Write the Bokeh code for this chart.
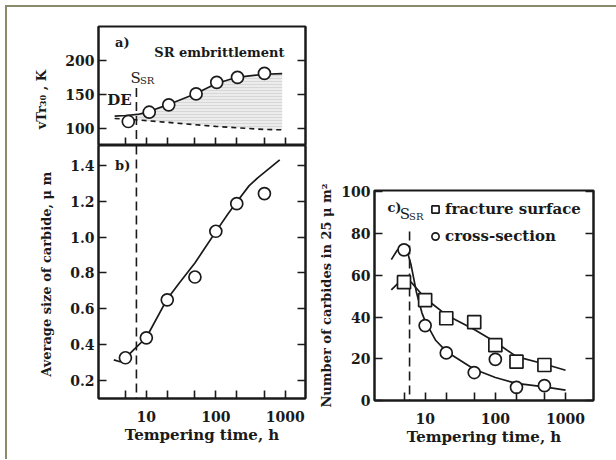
from bokeh.plotting import figure
from bokeh.layouts import row, column
from bokeh.models import (FixedTicker, PrintfTickFormatter, LinearAxis, Legend, LegendItem,
                          Label, Range1d, InlineStyleSheet)
from bokeh.embed import file_html
from bokeh.resources import INLINE

# ---------------- data ----------------
# panel a: vTr30 (K) vs tempering time (h)
a_time = [5.5, 11, 21, 52, 103, 205, 500]
a_vtr = [110.7, 124.3, 135.1, 151.2, 168.2, 175.5, 181.4]
a_curve_t = [3.5, 5, 7.5, 10, 20, 50, 100, 200, 500, 900]
a_curve_solid = [118.5, 119.5, 121, 124, 135, 151, 166, 175.5, 180, 181]
a_curve_de = [115, 114.5, 113, 112, 109.5, 106, 103.5, 101.5, 99, 98.5]
a_shade_from = 2  # shading starts at the third curve point
S_SR_ab = 7.2

# panel b: average carbide size (um)
b_time = [5, 10, 20, 50, 100, 200, 500]
b_size = [0.327, 0.438, 0.65, 0.777, 1.032, 1.186, 1.242]
b_curve_t = [3.4, 4.2, 5, 6.5, 10, 20, 30, 50, 70, 100, 150, 200, 300, 400, 500, 830]
b_curve_v = [0.315, 0.305, 0.325, 0.37, 0.44, 0.655, 0.745, 0.855, 0.94, 1.03, 1.13,
             1.195, 1.285, 1.33, 1.36, 1.43]

# panel c: number of carbides in 25 um^2
c_time = [5, 10, 20, 50, 100, 200, 500]
c_fracture = [56.7, 48.1, 39.4, 37.5, 26.5, 18.6, 17.0]
c_cross = [72.2, 35.9, 22.8, 13.4, 19.7, 6.3, 7.1]
c_fr_curve_t = [3.3, 4.2, 5, 6, 7, 10, 20, 50, 100, 200, 500, 1000]
c_fr_curve_v = [53, 56.5, 58, 57.5, 55, 49, 41, 34, 28, 21, 17.5, 14.5]
c_cs_curve_t = [3.3, 4, 4.8, 5.5, 6.3, 7.5, 9, 10, 14, 20, 50, 100, 200, 500, 1000]
c_cs_curve_v = [67.5, 72, 74, 72, 65, 52, 42, 38, 29, 23.5, 15, 11, 8.2, 6.5, 5]
S_SR_c = 6.0

x_major = [10, 100, 1000]
x_minor = [5, 20, 50, 200, 500]

SERIF = "DejaVu Serif"
INK = "#1a1a1a"
FRAME = "#8b8a6a"


def hide_labels(ax):
    ax.major_label_text_font_size = "1px"
    ax.major_label_text_color = None
    ax.major_label_standoff = 0


def style(p, yticks, yfmt, show_xlabels=True, xlabel=None, ylabel=None, ylab_standoff=13):
    p.outline_line_color = INK
    p.outline_line_width = 2
    p.grid.visible = False
    p.background_fill_color = "white"
    p.border_fill_color = "white"
    xa = p.xaxis[0]
    xa.ticker = FixedTicker(ticks=x_major, minor_ticks=x_minor)
    xa.formatter = PrintfTickFormatter(format="%d")
    xa.major_tick_in = 8
    xa.major_tick_out = 0
    xa.minor_tick_in = 8
    xa.minor_tick_out = 0
    xa.major_tick_line_width = 1.6
    xa.minor_tick_line_width = 1.6
    xa.major_tick_line_color = INK
    xa.minor_tick_line_color = INK
    xa.axis_line_color = INK
    xa.axis_line_width = 2
    if show_xlabels:
        xa.major_label_text_font = SERIF
        xa.major_label_text_font_style = "bold"
        xa.major_label_text_font_size = "14px"
        xa.major_label_text_color = INK
        xa.major_label_standoff = 12
        xa.axis_label = xlabel
        xa.axis_label_text_font = SERIF
        xa.axis_label_text_font_style = "bold"
        xa.axis_label_text_font_size = "15px"
        xa.axis_label_text_color = INK
        xa.axis_label_standoff = 1
    else:
        hide_labels(xa)
    ya = p.yaxis[0]
    ya.ticker = FixedTicker(ticks=yticks, minor_ticks=[])
    ya.formatter = PrintfTickFormatter(format=yfmt)
    ya.major_tick_in = 8
    ya.major_tick_out = 0
    ya.major_tick_line_width = 1.6
    ya.major_tick_line_color = INK
    ya.axis_line_color = INK
    ya.axis_line_width = 2
    ya.major_label_text_font = SERIF
    ya.major_label_text_font_style = "bold"
    ya.major_label_text_font_size = "14px"
    ya.major_label_text_color = INK
    ya.major_label_standoff = 4
    ya.axis_label = ylabel
    ya.axis_label_text_font = SERIF
    ya.axis_label_text_font_style = "bold"
    ya.axis_label_text_font_size = "13px"
    ya.axis_label_text_color = INK
    ya.axis_label_standoff = ylab_standoff
    ra = LinearAxis(ticker=FixedTicker(ticks=yticks, minor_ticks=[]),
                    major_tick_in=8, major_tick_out=0, major_tick_line_width=1.6,
                    major_tick_line_color=INK, axis_line_color=INK, axis_line_width=2)
    hide_labels(ra)
    p.add_layout(ra, "right")


def txt(p, x, y, s, size="14px", bold=True, align="left", baseline="middle"):
    p.add_layout(Label(x=x, y=y, text=s, text_font=SERIF,
                       text_font_size=size, text_font_style="bold" if bold else "normal",
                       text_color=INK, text_align=align, text_baseline=baseline))


# ---------------- panel a ----------------
pa = figure(x_axis_type="log", x_range=Range1d(2.05, 1950), y_range=Range1d(75.5, 250),
            frame_width=207, frame_height=119, min_border_left=91, min_border_right=5,
            min_border_top=19, min_border_bottom=0, output_backend="svg",
            toolbar_location=None)
style(pa, [100, 150, 200], "%d", show_xlabels=False,
      ylabel="vTr\u2083\u2080 , K\u00a0\u00a0\u00a0\u00a0\u00a0\u00a0")

sx = a_curve_t[a_shade_from:]
pa.varea(x=sx, y1=a_curve_de[a_shade_from:], y2=a_curve_solid[a_shade_from:],
         fill_color="#ececec", hatch_pattern="horizontal_line", hatch_color="#c9c9c9",
         hatch_scale=3, hatch_weight=0.6)
pa.line(a_curve_t, a_curve_de, line_color=INK, line_width=1.6, line_dash="5 4")
pa.line(a_curve_t, a_curve_solid, line_color=INK, line_width=1.7)
pa.segment(x0=[S_SR_ab], y0=[160], x1=[S_SR_ab], y1=[75.5], line_color=INK,
           line_width=1.6, line_dash="9 5")
pa.scatter(a_time, a_vtr, marker="circle", size=12, fill_color="white",
           line_color=INK, line_width=1.7)
txt(pa, 3.55, 226, "a)", size="13px")
txt(pa, 13.0, 212, "SR embrittlement", size="13px")
txt(pa, 2.75, 141.5, "DE", size="15px")
txt(pa, 5.9, 174, "S", size="15px", bold=False)
txt(pa, 8.1, 171.5, "SR", size="10px", bold=False)

# ---------------- panel b ----------------
pb = figure(x_axis_type="log", x_range=Range1d(2.05, 1950), y_range=Range1d(0.1, 1.51),
            frame_width=207, frame_height=253, min_border_left=91, min_border_right=5,
            min_border_top=0, min_border_bottom=61, output_backend="svg",
            toolbar_location=None)
style(pb, [0.2, 0.4, 0.6, 0.8, 1.0, 1.2, 1.4], "%.1f", xlabel="Tempering time, h",
      ylabel="Average size of carbide,  \u03bc m")
pb.segment(x0=[S_SR_ab], y0=[1.51], x1=[S_SR_ab], y1=[0.1], line_color=INK,
           line_width=1.6, line_dash="9 5")
pb.line(b_curve_t, b_curve_v, line_color=INK, line_width=1.7)
pb.scatter(b_time, b_size, marker="circle", size=12, fill_color="white",
           line_color=INK, line_width=1.7)
txt(pb, 3.55, 1.4, "b)", size="13px")

# ---------------- panel c ----------------
pc = figure(x_axis_type="log", x_range=Range1d(1.9, 2500), y_range=Range1d(0, 100.6),
            frame_width=219, frame_height=210, min_border_left=64, min_border_right=45,
            min_border_top=183, min_border_bottom=59, output_backend="svg",
            toolbar_location=None)
style(pc, [0, 20, 40, 60, 80, 100], "%d", xlabel="Tempering time, h",
      ylabel="Number of carbides in 25 \u03bc m\u00b2", ylab_standoff=4)
pc.segment(x0=[S_SR_c], y0=[81], x1=[S_SR_c], y1=[0], line_color=INK,
           line_width=1.6, line_dash="9 5")
pc.line(c_fr_curve_t, c_fr_curve_v, line_color=INK, line_width=1.7)
pc.line(c_cs_curve_t, c_cs_curve_v, line_color=INK, line_width=1.7)
r_sq = pc.scatter(c_time, c_fracture, marker="square", size=13, fill_color="white",
                  line_color=INK, line_width=1.7)
r_ci = pc.scatter(c_time, c_cross, marker="circle", size=12, fill_color="white",
                  line_color=INK, line_width=1.7)
txt(pc, 2.9, 92.5, "c)", size="13px")
txt(pc, 4.35, 89.5, "S", size="15px", bold=False)
txt(pc, 5.9, 88, "SR", size="10px", bold=False)

leg = Legend(items=[LegendItem(label="fracture surface", renderers=[r_sq]),
                    LegendItem(label="cross-section", renderers=[r_ci])],
             location=(52, 154), glyph_width=18, glyph_height=18, label_height=20,
             label_standoff=1, spacing=7, padding=0, margin=0,
             border_line_color=None, background_fill_alpha=0,
             label_text_font=SERIF, label_text_font_style="bold",
             label_text_font_size="15px", label_text_color=INK)
pc.add_layout(leg)

frame_css = InlineStyleSheet(css=(
    ":host { border-top: 2px solid %s; border-left: 2px solid %s; "
    "margin-left: 5px; margin-top: 5px; }" % (FRAME, FRAME)))

left = column(pa, pb, spacing=0)
root = row(left, pc, spacing=0, stylesheets=[frame_css])

open("out.html", "w").write(file_html(root, INLINE))
